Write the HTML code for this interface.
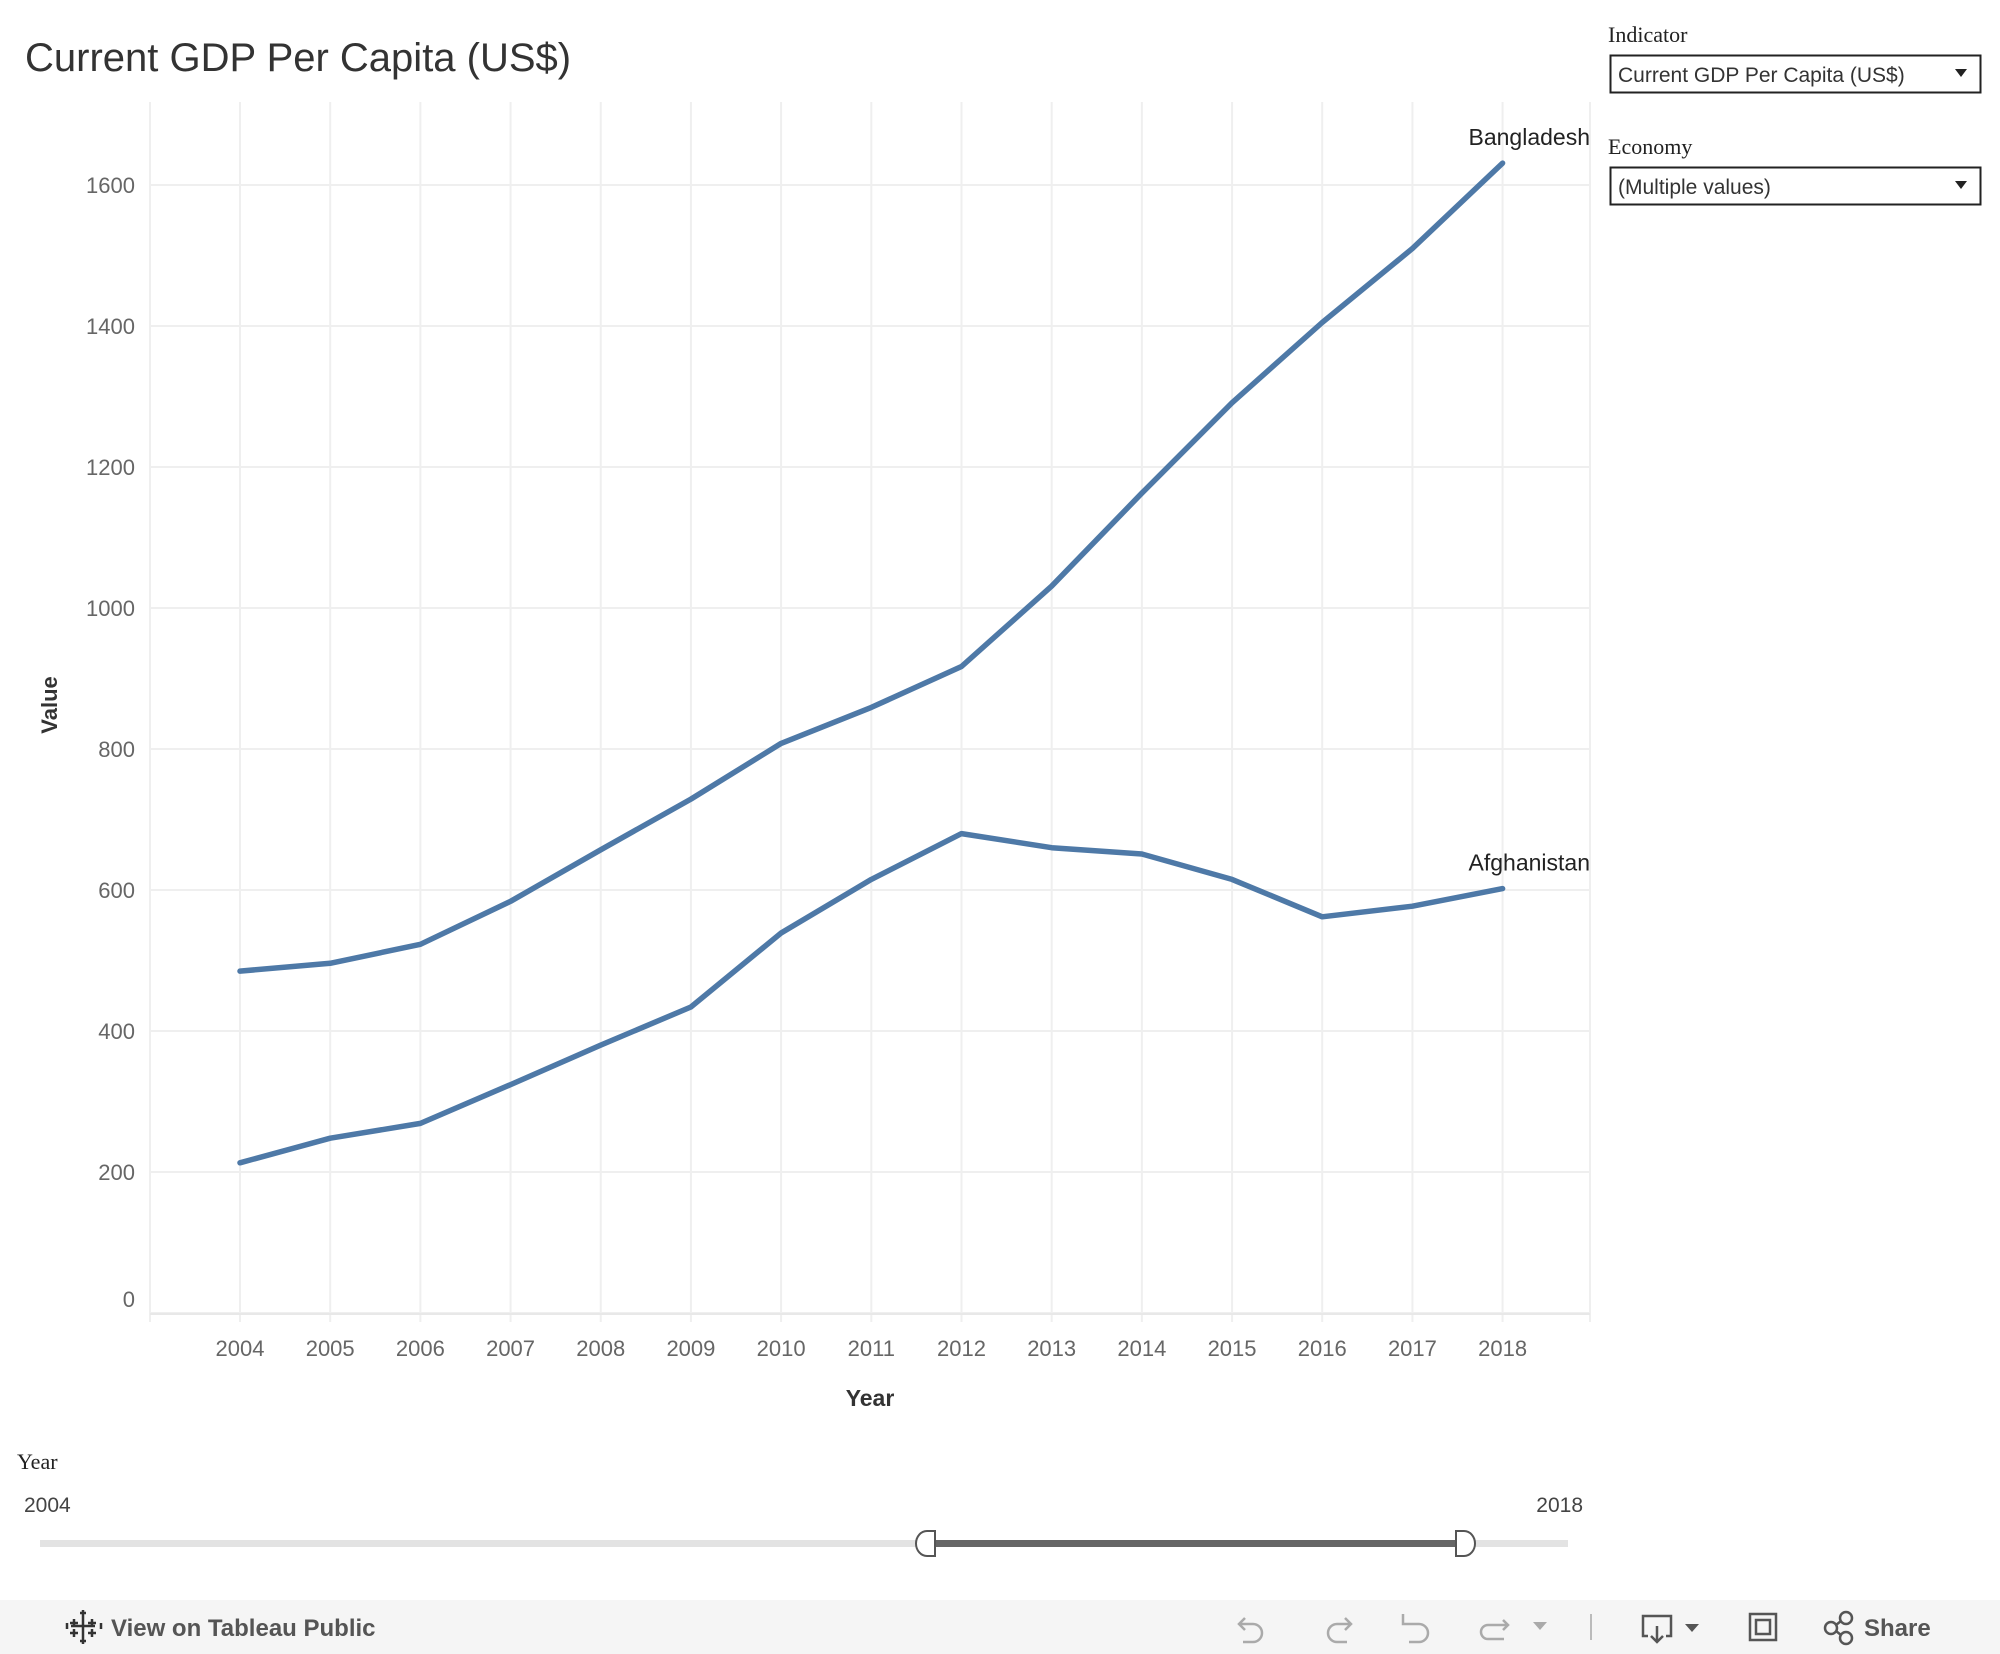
<!DOCTYPE html>
<html><head><meta charset="utf-8">
<style>
body{margin:0;width:2000px;height:1654px;background:#fff;overflow:hidden;font-family:"Liberation Sans",sans-serif;}
svg{display:block}
</style></head>
<body>
<svg id="chart" width="2000" height="1654">
  <text x="25" y="71" font-size="40" fill="#333">Current GDP Per Capita (US$)</text>
  <g id="grid"></g>
  <g id="yticks"></g>
  <g id="xticks"></g>
  <g id="lines"></g>
  <text x="0" y="0" transform="translate(57,705) rotate(-90)" text-anchor="middle" font-size="22" font-weight="bold" fill="#333">Value</text>
  <text x="870" y="1406" text-anchor="middle" font-size="23" font-weight="bold" fill="#333">Year</text>

  <text x="1608" y="42" font-family="Liberation Serif,serif" font-size="22" fill="#222">Indicator</text>
  <g>
    <rect x="1610.5" y="55.5" width="370" height="37" fill="#fff" stroke="#222" stroke-width="2"/>
    <text x="1618" y="82" font-size="21" fill="#333">Current GDP Per Capita (US$)</text>
    <path d="M1955 69 L1967 69 L1961 77 Z" fill="#222"/>
  </g>
  <text x="1608" y="154" font-family="Liberation Serif,serif" font-size="22" fill="#222">Economy</text>
  <g>
    <rect x="1610.5" y="167.5" width="370" height="37" fill="#fff" stroke="#222" stroke-width="2"/>
    <text x="1618" y="194" font-size="21" fill="#333">(Multiple values)</text>
    <path d="M1955 181 L1967 181 L1961 189 Z" fill="#222"/>
  </g>

  <text x="17" y="1469" font-family="Liberation Serif,serif" font-size="22" fill="#222">Year</text>
  <text x="24" y="1512" font-size="21" fill="#444">2004</text>
  <text x="1583" y="1512" text-anchor="end" font-size="21" fill="#444">2018</text>
  <rect x="40" y="1540" width="1528" height="7" fill="#e3e3e3"/>
  <rect x="926" y="1540" width="538" height="7" fill="#666"/>
  <path d="M935 1531 L935 1556 L927 1556 A11 12.5 0 0 1 927 1531 Z" fill="#fff" stroke="#555" stroke-width="2"/>
  <path d="M1456 1531 L1464 1531 A11 12.5 0 0 1 1464 1556 L1456 1556 Z" fill="#fff" stroke="#555" stroke-width="2"/>

  <rect x="0" y="1600" width="2000" height="54" fill="#f5f5f5"/>
  <g stroke="#333" stroke-width="2.5">
    <path d="M83 1614v24M71 1626h24M74 1619v8M70 1623h8M92 1619v8M88 1623h8M74 1629v8M70 1633h8M92 1629v8M88 1633h8M83 1610v6M80 1613h6M83 1638v6M80 1641h6M67 1623v6M101 1623v6"/>
  </g>
  <text x="111" y="1636" font-size="24" font-weight="bold" fill="#555">View on Tableau Public</text>
  <g fill="none" stroke="#aaa" stroke-width="2.5">
    <path d="M1245 1618 l-6 6 l6 6 M1239 1624 h14 a9 9 0 0 1 0 18 h-10"/>
    <path d="M1345 1618 l6 6 l-6 6 M1351 1624 h-14 a9 9 0 0 0 0 18 h10"/>
    <path d="M1403 1614 v10 h4 M1403 1624 h16 a9 9 0 0 1 0 18 h-10"/>
    <path d="M1503 1620 l5 5 l-5 5 M1508 1625 h-20 a7 7 0 0 0 0 14 h16"/>
  </g>
  <path d="M1533 1622 h14 l-7 8 z" fill="#aaa"/>
  <rect x="1590" y="1614" width="2" height="26" fill="#bbb"/>
  <g fill="none" stroke="#555" stroke-width="2.5">
    <path d="M1648 1636 h-5 v-20 h28 v20 h-5 M1657 1626 v16 M1651 1636 l6 6 l6 -6"/>
  </g>
  <path d="M1685 1624 h14 l-7 8 z" fill="#555"/>
  <g fill="none" stroke="#555" stroke-width="2.5">
    <rect x="1750" y="1614" width="26" height="26"/><rect x="1756" y="1620" width="14" height="14"/>
  </g>
  <g fill="none" stroke="#555" stroke-width="2.5">
    <circle cx="1831" cy="1628" r="6"/><circle cx="1846" cy="1618" r="6"/><circle cx="1846" cy="1638" r="6"/>
    <path d="M1836 1625 l5 -4 M1836 1631 l5 4"/>
  </g>
  <text x="1864" y="1636" font-size="24" font-weight="bold" fill="#555">Share</text>
</svg>
<script>
const years = [2004,2005,2006,2007,2008,2009,2010,2011,2012,2013,2014,2015,2016,2017,2018];
const bangladesh = [485,496,523,584,657,729,808,859,917,1031,1163,1291,1405,1510,1631];
const afghanistan = [213,248,269,324,380,434,539,615,680,660,651,615,562,577,602];
const yTicks = [0,200,400,600,800,1000,1200,1400,1600];
const seriesNames = ["Bangladesh","Afghanistan"];

const NS = "http://www.w3.org/2000/svg";
const x = yr => 240 + (yr - 2004) * (1502.6 - 240) / 14;
const y = v => 1313 - v * (1313 - 185) / 1600;
function mk(tag, attrs, parent){const e=document.createElementNS(NS,tag);for(const k in attrs)e.setAttribute(k,attrs[k]);parent.appendChild(e);return e;}

const grid=document.getElementById('grid');
const yt=document.getElementById('yticks');
const xt=document.getElementById('xticks');
const lines=document.getElementById('lines');

yTicks.forEach(t=>{
  const l=mk('line',{x1:150,x2:1590,y1:y(t),y2:y(t),stroke:'#efefef','stroke-width':2},grid);
  
  
  const tx=mk('text',{x:135,y:y(t)+(t===0?-6:8),'text-anchor':'end','font-size':22,fill:'#666'},yt);
  tx.textContent=t;
  
  
});
[150,1590].forEach(px=>{
  const l=mk('line',{x1:px,x2:px,y1:102,y2:1322,stroke:'#efefef','stroke-width':2},grid);
  
  
});
years.forEach(yr=>{
  const l=mk('line',{x1:x(yr),x2:x(yr),y1:102,y2:1322,stroke:'#efefef','stroke-width':2},grid);
  
  
  const tx=mk('text',{x:x(yr),y:1356,'text-anchor':'middle','font-size':22,fill:'#666'},xt);
  tx.textContent=yr;
  
  
});
const base=mk('line',{x1:150,x2:1590,y1:1314,y2:1314,stroke:'#e8e8e8','stroke-width':2},grid);



[bangladesh,afghanistan].forEach((vals,i)=>{
  const d=vals.map((v,j)=>(j?'L':'M')+x(years[j]).toFixed(1)+' '+y(v).toFixed(1)).join(' ');
  const p=mk('path',{d:d,fill:'none',stroke:'#4e79a7','stroke-width':5.5,'stroke-linejoin':'round','stroke-linecap':'round'},lines);
  
  
  const last=vals[vals.length-1];
  const lb=mk('text',{x:1590,y:y(last)-18,'text-anchor':'end','font-size':23,fill:'#222'},lines);
  lb.textContent=seriesNames[i];
  
  
});
</script>
</body></html>
